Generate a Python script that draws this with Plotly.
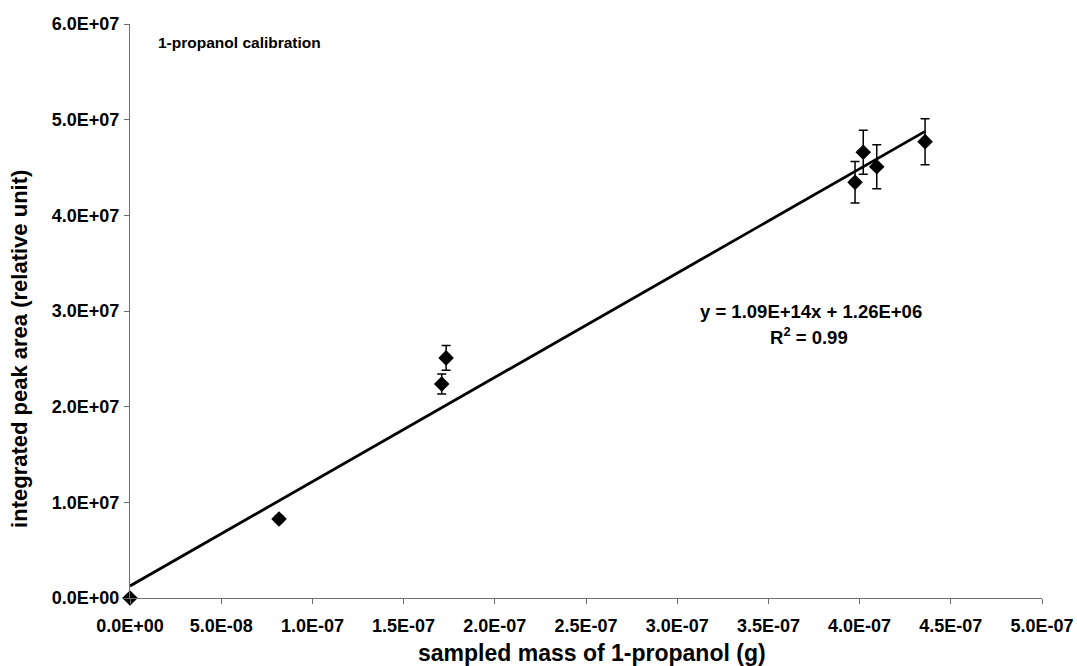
import plotly.graph_objects as go

# Data
mass_g = [0.0, 8.17e-8, 1.709e-7, 1.733e-7, 3.975e-7, 4.02e-7, 4.094e-7, 4.359e-7]
peak_area = [0.0, 8.26e6, 2.237e7, 2.51e7, 4.345e7, 4.659e7, 4.508e7, 4.77e7]
peak_err = [0.0, 3.0e5, 1.05e6, 1.3e6, 2.17e6, 2.3e6, 2.3e6, 2.4e6]

slope = 1.09e14
intercept = 1.26e6

x_tickvals = [0, 5e-8, 1e-7, 1.5e-7, 2e-7, 2.5e-7, 3e-7, 3.5e-7, 4e-7, 4.5e-7, 5e-7]
x_ticktext = ["0.0E+00", "5.0E-08", "1.0E-07", "1.5E-07", "2.0E-07", "2.5E-07",
              "3.0E-07", "3.5E-07", "4.0E-07", "4.5E-07", "5.0E-07"]
y_tickvals = [0, 1e7, 2e7, 3e7, 4e7, 5e7, 6e7]
y_ticktext = ["0.0E+00", "1.0E+07", "2.0E+07", "3.0E+07", "4.0E+07", "5.0E+07", "6.0E+07"]

FONT = "Liberation Sans, Arial, sans-serif"

fit_x = [0.0, max(mass_g)]
fit_y = [slope * v + intercept for v in fit_x]

fig = go.Figure()
fig.add_trace(go.Scatter(
    x=fit_x, y=fit_y, mode="lines",
    line=dict(color="black", width=2.8),
    showlegend=False, hoverinfo="skip",
))
fig.add_trace(go.Scatter(
    x=mass_g, y=peak_area, mode="markers",
    marker=dict(symbol="diamond", color="black", size=12),
    error_y=dict(type="data", array=peak_err, visible=True,
                 color="black", thickness=1.5, width=4.5),
    cliponaxis=False,
    showlegend=False,
))

axis_common = dict(
    showgrid=False, zeroline=False, showline=True,
    linecolor="#6e6e6e", linewidth=1.3,
    ticks="outside", ticklen=5, tickcolor="#6e6e6e", tickwidth=1,
    tickfont=dict(family=FONT, size=18, color="black", weight="bold"),
    automargin=False,
)

fig.update_layout(
    width=1077, height=666,
    paper_bgcolor="white", plot_bgcolor="white",
    margin=dict(l=130, r=35, t=24, b=68),
    font=dict(family=FONT, color="black"),
    xaxis=dict(
        range=[0, 5e-7], tickmode="array",
        tickvals=x_tickvals, ticktext=x_ticktext,
        ticklabelstandoff=6,
        **axis_common,
    ),
    yaxis=dict(
        range=[0, 6e7], tickmode="array",
        tickvals=y_tickvals, ticktext=y_ticktext,
        ticklabelstandoff=1,
        **axis_common,
    ),
    annotations=[
        dict(text="<b>sampled mass of 1-propanol (g)</b>", xref="paper", yref="paper",
             x=0.5066, y=-0.0958, xanchor="center", yanchor="middle", showarrow=False,
             font=dict(family=FONT, size=23, color="black")),
        dict(text="<b>integrated peak area (relative unit)</b>", xref="paper", yref="paper",
             x=-0.1206, y=0.434, xanchor="center", yanchor="middle", showarrow=False,
             textangle=-90, font=dict(family=FONT, size=22, color="black")),
        dict(text="<b>1-propanol calibration</b>", xref="paper", yref="paper",
             x=0.0285, y=0.967, xanchor="left", yanchor="middle", showarrow=False,
             font=dict(family=FONT, size=15.5, color="black")),
        dict(text="<b>y = 1.09E+14x + 1.26E+06</b>", xref="x", yref="y",
             x=3.736e-7, y=2.993e7, xanchor="center", yanchor="middle", showarrow=False,
             font=dict(family=FONT, size=18.5, color="black")),
        dict(text="<b>R<sup>2</sup> = 0.99</b>", xref="x", yref="y",
             x=3.72e-7, y=2.735e7, xanchor="center", yanchor="middle", showarrow=False,
             font=dict(family=FONT, size=18.5, color="black")),
    ],
)

fig.write_html("out.html")
